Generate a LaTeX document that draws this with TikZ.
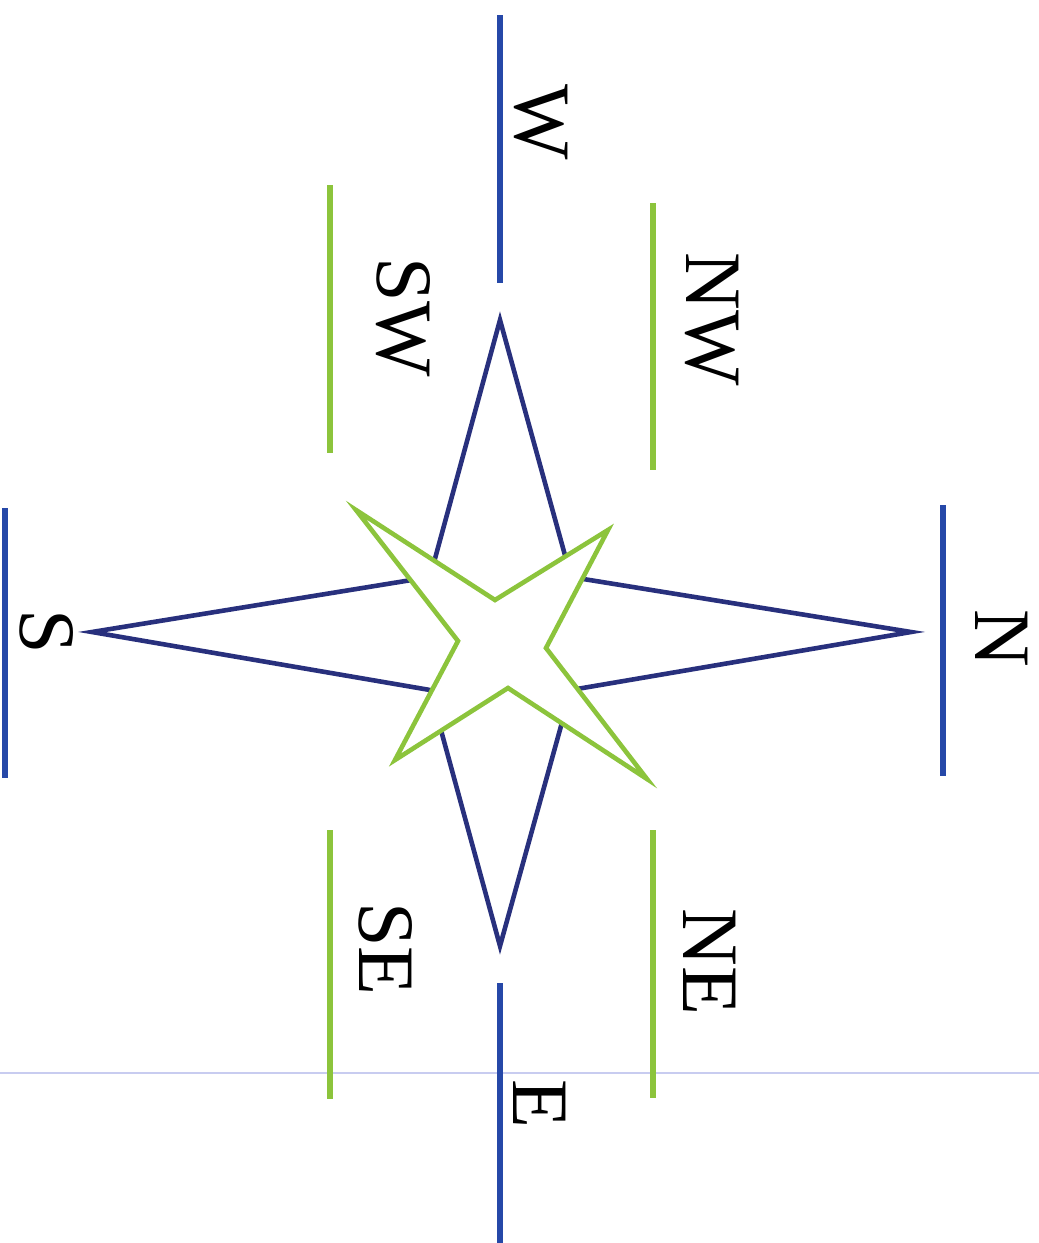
\documentclass[tikz,border=0pt]{standalone}
\usepackage{fontspec}
\setmainfont{Liberation Serif}
\definecolor{axisblue}{RGB}{38,72,168}
\definecolor{starblue}{RGB}{40,48,125}
\definecolor{leafgreen}{RGB}{140,196,60}
\definecolor{faintline}{RGB}{200,204,240}
\begin{document}
\begin{tikzpicture}[x=1pt,y=-1pt,
  axisline/.style={draw=axisblue,line width=6pt},
  diagline/.style={draw=leafgreen,line width=6pt},
  bluestar/.style={draw=starblue,line width=4.6pt,line join=miter,fill=white},
  greenstar/.style={draw=leafgreen,line width=4.6pt,line join=miter,fill=white},
  lbl/.style={inner sep=0pt,rotate=-90,font=\fontsize{80}{80}\selectfont}]
\useasboundingbox (0,0) rectangle (1039,1243);
\fill[white] (0,0) rectangle (1039,1243);
% faint guide line
\coordinate (gl) at (0,1073);
\coordinate (gr) at (1039,1073);
\draw[faintline,line width=1.2pt] (gl) -- (gr);
% axis lines
\coordinate (w1) at (500,15);   \coordinate (w2) at (500,283);
\coordinate (e1) at (500,983);  \coordinate (e2) at (500,1243);
\coordinate (n1) at (943,505);  \coordinate (n2) at (943,776);
\coordinate (s1) at (5,508);    \coordinate (s2) at (5,778);
\draw[axisline] (w1) -- (w2);
\draw[axisline] (e1) -- (e2);
\draw[axisline] (n1) -- (n2);
\draw[axisline] (s1) -- (s2);
% diagonal lines
\coordinate (sw1) at (330,185); \coordinate (sw2) at (330,453);
\coordinate (nw1) at (653,203); \coordinate (nw2) at (653,470);
\coordinate (se1) at (330,830); \coordinate (se2) at (330,1099);
\coordinate (ne1) at (653,830); \coordinate (ne2) at (653,1098);
\draw[diagline] (sw1) -- (sw2);
\draw[diagline] (nw1) -- (nw2);
\draw[diagline] (se1) -- (se2);
\draw[diagline] (ne1) -- (ne2);
% blue star
\coordinate (bt) at (500,320);
\coordinate (br) at (911,632);
\coordinate (bb) at (500,946);
\coordinate (bl) at (92,632);
\coordinate (bi1) at (571,577);
\coordinate (bi2) at (571,690);
\coordinate (bi3) at (430,690);
\coordinate (bi4) at (430,577);
\path[bluestar] (bt) -- (bi1) -- (br) -- (bi2) -- (bb) -- (bi3) -- (bl) -- (bi4) -- cycle;
% green star
\coordinate (g1) at (356,510);
\coordinate (g2) at (608,530);
\coordinate (g3) at (647,779);
\coordinate (g4) at (395,760);
\coordinate (gi1) at (495,600);
\coordinate (gi2) at (546,648);
\coordinate (gi3) at (508,688);
\coordinate (gi4) at (458,641);
\path[greenstar] (g1) -- (gi1) -- (g2) -- (gi2) -- (g3) -- (gi3) -- (g4) -- (gi4) -- cycle;
% labels
\node[lbl] (W) at (541,122) {W};
\node[lbl] (NW) at (712,319) {NW};
\node[lbl] (SW) at (403,317) {SW};
\node[lbl] (N) at (1002,638) {N};
\node[lbl] (S) at (47,632) {S};
\node[lbl] (SE) at (386,949) {SE};
\node[lbl] (NE) at (710,962) {NE};
\node[lbl] (E) at (540,1104) {E};
\end{tikzpicture}
\end{document}
